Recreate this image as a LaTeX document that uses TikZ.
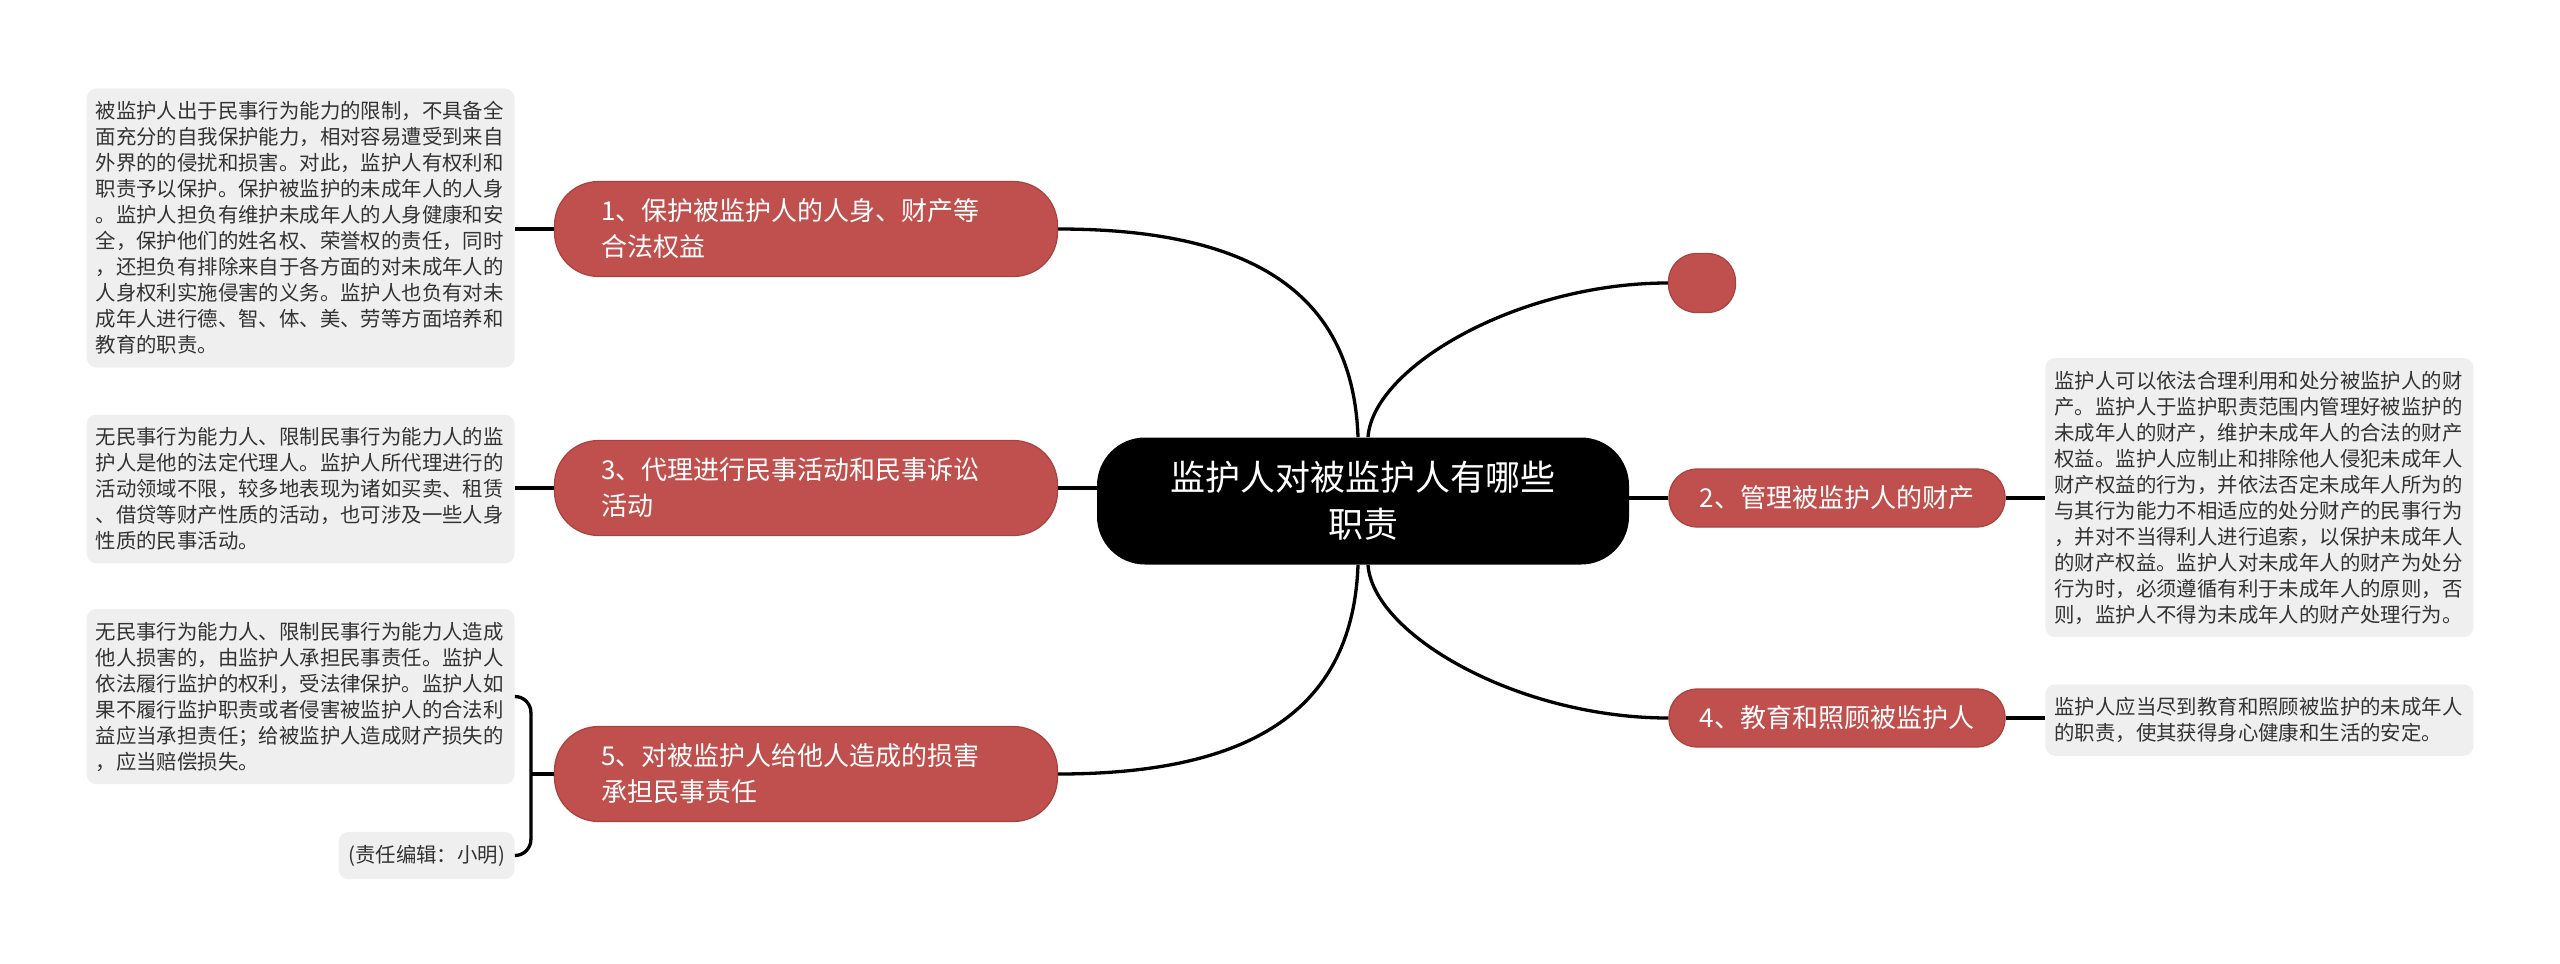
\documentclass[tikz,border=0pt]{standalone}
\usepackage{fontspec}
\setmainfont{Noto Sans CJK SC}
\definecolor{topicred}{HTML}{C0504D}
\definecolor{topicline}{HTML}{A9413E}
\definecolor{notegray}{HTML}{EFEFEF}
\definecolor{notetext}{HTML}{333333}
\newcommand{\rootfont}{\fontsize{17.5}{23.5}\selectfont}
\newcommand{\topicfont}{\fontsize{13}{18}\selectfont}
\newcommand{\notefont}{\fontsize{10.2}{13}\selectfont}
\tikzset{
  rootbox/.style={fill=black, text=white, font=\rootfont, align=center,
    rounded corners=24pt, minimum width=266pt, minimum height=63.5pt, inner sep=0pt},
  topic/.style={fill=topicred, draw=topicline, line width=0.6pt, text=white,
    font=\topicfont, inner sep=0pt, minimum height=29pt, rounded corners=14pt},
  bigtopic/.style={topic, text width=205pt, align=left, minimum width=251.5pt,
    minimum height=47.5pt, rounded corners=22pt},
  notebase/.style={fill=notegray, text=notetext, font=\notefont, rounded corners=5pt,
    inner xsep=4.5pt, inner ysep=6.5pt},
  note/.style={notebase, text width=205pt, align=left},
  branch/.style={line width=1.65pt}
}

\begin{document}
\begin{tikzpicture}[x=0.5pt,y=-0.5pt]
    \useasboundingbox (0,0) rectangle (2560,964);

    % centre
    \node[rootbox] (root) at (1363,501) {监护人对被监护人有哪些\\职责};

    % left topics
    \node[bigtopic] (t1) at (806,229) {1、保护被监护人的人身、财产等\\合法权益};
    \node[bigtopic] (t3) at (806,488) {3、代理进行民事活动和民事诉讼\\活动};
    \node[bigtopic] (t5) at (806,774) {5、对被监护人给他人造成的损害\\承担民事责任};

    % right topics
    \node[topic, minimum width=33.5pt, minimum height=29.5pt] (t0) at (1702,283) {};
    \node[topic, minimum width=168pt] (t2) at (1837,498) {2、管理被监护人的财产};
    \node[topic, minimum width=168pt] (t4) at (1837,718) {4、教育和照顾被监护人};

    % notes
    \node[note, anchor=east] (n1) at (515,228) {被监护人出于民事行为能力的限制，不具备全\\
      面充分的自我保护能力，相对容易遭受到来自\\
      外界的的侵扰和损害。对此，监护人有权利和\\
      职责予以保护。保护被监护的未成年人的人身\\
      。监护人担负有维护未成年人的人身健康和安\\
      全，保护他们的姓名权、荣誉权的责任，同时\\
      ，还担负有排除来自于各方面的对未成年人的\\
      人身权利实施侵害的义务。监护人也负有对未\\
      成年人进行德、智、体、美、劳等方面培养和\\
      教育的职责。};
    \node[note, anchor=east] (n3) at (515,489) {无民事行为能力人、限制民事行为能力人的监\\
      护人是他的法定代理人。监护人所代理进行的\\
      活动领域不限，较多地表现为诸如买卖、租赁\\
      、借贷等财产性质的活动，也可涉及一些人身\\
      性质的民事活动。};
    \node[note, anchor=east] (n5) at (515,696.5) {无民事行为能力人、限制民事行为能力人造成\\
      他人损害的，由监护人承担民事责任。监护人\\
      依法履行监护的权利，受法律保护。监护人如\\
      果不履行监护职责或者侵害被监护人的合法利\\
      益应当承担责任；给被监护人造成财产损失的\\
      ，应当赔偿损失。};
    \node[notebase, anchor=east, minimum width=88pt] (ed) at (515,855.5) {(责任编辑：小明)};
    \node[note, anchor=west] (n2) at (2045,497.5) {监护人可以依法合理利用和处分被监护人的财\\
      产。监护人于监护职责范围内管理好被监护的\\
      未成年人的财产，维护未成年人的合法的财产\\
      权益。监护人应制止和排除他人侵犯未成年人\\
      财产权益的行为，并依法否定未成年人所为的\\
      与其行为能力不相适应的处分财产的民事行为\\
      ，并对不当得利人进行追索，以保护未成年人\\
      的财产权益。监护人对未成年人的财产为处分\\
      行为时，必须遵循有利于未成年人的原则，否\\
      则，监护人不得为未成年人的财产处理行为。};
    \node[note, anchor=west] (n4) at (2045,720) {监护人应当尽到教育和照顾被监护的未成年人\\
      的职责，使其获得身心健康和生活的安定。};

    % branches
    \draw[branch] ([xshift=-2.5pt]root.north) .. controls +(-5,-140) and +(200,0) .. (t1.east);
    \draw[branch] ([xshift=-2.5pt]root.south) .. controls +(-5,140) and +(200,0) .. (t5.east);
    \draw[branch] ([xshift=2.5pt]root.north) .. controls +(5,-70) and +(-150,0) .. (t0.west);
    \draw[branch] ([xshift=2.5pt]root.south) .. controls +(5,70) and +(-150,0) .. (t4.west);
    \draw[branch] (t3.east) -- (t3.east -| root.west);
    \draw[branch] (t2.west) -- (t2.west -| root.east);

    % notes to topics
    \draw[branch] (t1.west) -- (t1.west -| n1.east);
    \draw[branch] (t3.west) -- (t3.west -| n3.east);
    \draw[branch] (t2.east) -- (t2.east -| n2.west);
    \draw[branch] (t4.east) -- (t4.east -| n4.west);
    \coordinate (fork) at ([xshift=-11.5pt]t5.west);
    \draw[branch] (t5.west) -- (fork);
    \draw[branch, rounded corners=8pt] (n5.east) -| (fork) |- (ed.east);
\end{tikzpicture}
\end{document}
